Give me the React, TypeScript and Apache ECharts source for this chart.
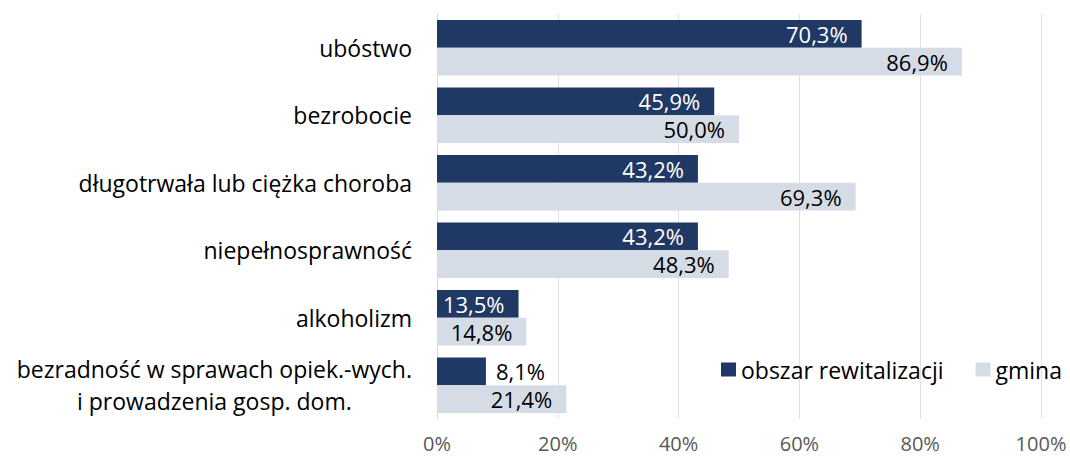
import React, { useEffect, useRef } from "react";
import * as echarts from "echarts";

const categories = [
  "ubóstwo",
  "bezrobocie",
  "długotrwała lub ciężka choroba",
  "niepełnosprawność",
  "alkoholizm",
  "bezradność w sprawach opiek.-wych.\ni prowadzenia gosp. dom.",
];
const obszarValues = [70.3, 45.9, 43.2, 43.2, 13.5, 8.1];
const gminaValues = [86.9, 50.0, 69.3, 48.3, 14.8, 21.4];
const xTicks = [0, 20, 40, 60, 80, 100];

const FONT = "Open Sans";
const fmt = (v: number) => v.toFixed(1).replace(".", ",") + "%";

export default function App() {
  const ref = useRef<HTMLDivElement>(null);
  useEffect(() => {
    document.body.style.margin = "0";
    const chart = echarts.init(ref.current!, null, { renderer: "svg" });
    chart.setOption({
      animation: false,
      textStyle: { fontFamily: FONT },
      grid: { left: 437, right: 29, top: 14, bottom: 40 },
      legend: {
        left: 716,
        top: 353,
        itemWidth: 15,
        itemHeight: 14,
        itemGap: 32,
        icon: "rect",
        textStyle: { fontFamily: FONT, fontSize: 23, color: "#000" },
        data: ["obszar rewitalizacji", "gmina"],
      },
      xAxis: {
        type: "value",
        min: 0,
        max: 100,
        interval: 20,
        axisLabel: {
          formatter: (v: number) => (xTicks.includes(v) ? v + "%" : ""),
          fontSize: 20,
          color: "#595959",
          margin: 14,
        },
        splitLine: { lineStyle: { color: "#E0E0E0" } },
        axisLine: { show: false },
        axisTick: { show: false },
      },
      yAxis: {
        type: "category",
        inverse: true,
        data: categories,
        axisLine: { show: true, lineStyle: { color: "#D9D9D9" } },
        axisTick: { show: false },
        axisLabel: {
          margin: 25,
          color: "#000",
          fontSize: 23,
          lineHeight: 32,
          formatter: (v: string) =>
            v
              .split("\n")
              .map((l) => "{c|" + l + "}")
              .join("\n"),
          rich: { c: { align: "center", fontSize: 23, fontFamily: FONT, color: "#000", lineHeight: 32 } },
        },
      },
      series: [
        {
          name: "obszar rewitalizacji",
          type: "bar",
          data: obszarValues.map((v) =>
            v < 10
              ? { value: v, label: { position: "right", color: "#000", distance: 10 } }
              : v
          ),
          itemStyle: { color: "#203864" },
          barGap: "0%",
          barCategoryGap: "18%",
          label: {
            show: true,
            position: "insideRight",
            distance: 14,
            color: "#fff",
            fontSize: 22,
            lineHeight: 24,
            fontFamily: FONT,
            formatter: (p: any) => fmt(p.value),
          },
        },
        {
          name: "gmina",
          type: "bar",
          data: gminaValues,
          itemStyle: { color: "#D6DCE5" },
          barGap: "0%",
          barCategoryGap: "18%",
          label: {
            show: true,
            position: "insideRight",
            distance: 14,
            color: "#000",
            fontSize: 22,
            lineHeight: 24,
            fontFamily: FONT,
            formatter: (p: any) => fmt(p.value),
          },
        },
      ],
    });
    return () => chart.dispose();
  }, []);
  return <div ref={ref} style={{ width: 1070, height: 459 }} />;
}
